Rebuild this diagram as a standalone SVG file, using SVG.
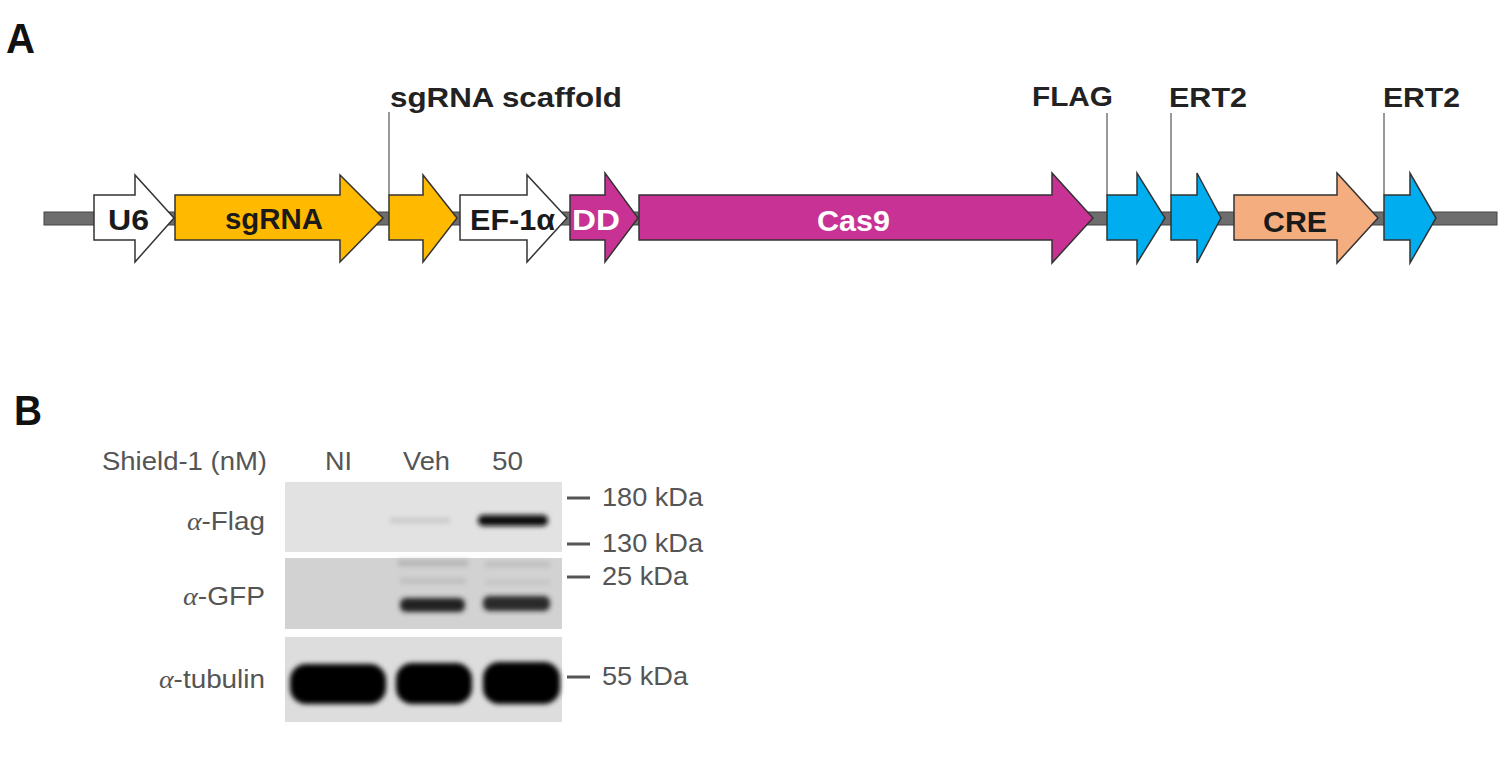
<svg xmlns="http://www.w3.org/2000/svg" width="1500" height="762" viewBox="0 0 1500 762">
<defs>
<style>
.lbl{font-family:"Liberation Sans",Arial,sans-serif;font-size:28px;font-weight:bold;fill:#222;}
.in{font-family:"Liberation Sans",Arial,sans-serif;font-size:29px;font-weight:bold;fill:#1a1a1a;}
.inw{font-family:"Liberation Sans",Arial,sans-serif;font-size:29px;font-weight:bold;fill:#ffffff;}
.arr{stroke:#333;stroke-width:1.5;stroke-linejoin:miter;}
.lead{stroke:#777;stroke-width:1.5;fill:none;}
.pan{font-family:"Liberation Sans",Arial,sans-serif;font-size:42px;font-weight:bold;fill:#111;}
.bt{font-family:"Liberation Sans",Arial,sans-serif;font-size:26px;fill:#555;}
.al{font-family:"Liberation Serif","Times New Roman",serif;font-style:italic;}
.mk{stroke:#555;stroke-width:3;}
</style>
<filter id="blur" x="-20%" y="-50%" width="140%" height="200%"><feGaussianBlur stdDeviation="2.5"/></filter>
</defs>
<rect width="1500" height="762" fill="#ffffff"/>
<text class="pan" x="6" y="53" textLength="29" lengthAdjust="spacingAndGlyphs">A</text>
<text class="pan" x="14" y="425" textLength="28" lengthAdjust="spacingAndGlyphs">B</text>

<g id="backbone"><rect x="44" y="212" width="1453" height="13" fill="#6d6d6d" stroke="#444" stroke-width="1"/></g>

<g id="connectors">
<line class="lead" x1="389" y1="112" x2="389" y2="195"/>
<line class="lead" x1="1107" y1="113" x2="1107" y2="195"/>
<line class="lead" x1="1171" y1="113" x2="1171" y2="195"/>
<line class="lead" x1="1384" y1="113" x2="1384" y2="195"/>
</g>

<g id="U6"><polygon class="arr" fill="#ffffff" points="94,195 135,195 135,175 174,218 135,262 135,240 94,240"/><text class="in" x="108" y="230" textLength="41" lengthAdjust="spacingAndGlyphs">U6</text></g>
<g id="sgRNA"><polygon class="arr" fill="#FFBA00" points="175,195 340,195 340,175 383,218 340,262 340,240 175,240"/><text class="in" x="225" y="229" textLength="98" lengthAdjust="spacingAndGlyphs">sgRNA</text></g>
<g id="scaffold"><polygon class="arr" fill="#FFBA00" points="389,195 423,195 423,175 457,218 423,262 423,240 389,240"/><text class="lbl" x="390" y="107" textLength="232" lengthAdjust="spacingAndGlyphs">sgRNA scaffold</text></g>
<g id="EF1a"><polygon class="arr" fill="#ffffff" points="460,195 527,195 527,175 567,218 527,262 527,240 460,240"/><text class="in" x="470" y="230" textLength="85" lengthAdjust="spacingAndGlyphs">EF-1α</text></g>
<g id="DD"><polygon class="arr" fill="#C83294" points="570,195 605,195 605,173 638,218 605,262 605,240 570,240"/><text class="inw" x="572" y="230" textLength="48" lengthAdjust="spacingAndGlyphs">DD</text></g>
<g id="Cas9"><polygon class="arr" fill="#C83294" points="639,195 1052,195 1052,173 1093,218 1052,263 1052,240 639,240"/><text class="inw" x="817" y="231" textLength="73" lengthAdjust="spacingAndGlyphs">Cas9</text></g>
<g id="FLAG"><polygon class="arr" fill="#00ADEF" points="1107,195 1137,195 1137,173 1165,218 1137,263 1137,240 1107,240"/><text class="lbl" x="1032" y="106" textLength="81" lengthAdjust="spacingAndGlyphs">FLAG</text></g>
<g id="ERT2a"><polygon class="arr" fill="#00ADEF" points="1171,195 1197,195 1197,173 1221,218 1197,263 1197,240 1171,240"/><text class="lbl" x="1169" y="107" textLength="78" lengthAdjust="spacingAndGlyphs">ERT2</text></g>
<g id="CRE"><polygon class="arr" fill="#F4AD7E" points="1234,195 1337,195 1337,173 1378,218 1337,263 1337,240 1234,240"/><text class="in" x="1263" y="232" textLength="64" lengthAdjust="spacingAndGlyphs">CRE</text></g>
<g id="ERT2b"><polygon class="arr" fill="#00ADEF" points="1384,195 1410,195 1410,173 1436,218 1410,263 1410,240 1384,240"/><text class="lbl" x="1383" y="107" textLength="77" lengthAdjust="spacingAndGlyphs">ERT2</text></g>

<g id="blot">
<text class="bt" x="102" y="470" textLength="165" lengthAdjust="spacingAndGlyphs">Shield-1 (nM)</text>
<text class="bt" x="325" y="470" textLength="27" lengthAdjust="spacingAndGlyphs">NI</text>
<text class="bt" x="403" y="470" textLength="47" lengthAdjust="spacingAndGlyphs">Veh</text>
<text class="bt" x="492" y="470" textLength="31" lengthAdjust="spacingAndGlyphs">50</text>
<text class="bt" x="187" y="530" textLength="78" lengthAdjust="spacingAndGlyphs"><tspan class="al">α</tspan>-Flag</text>
<text class="bt" x="183" y="605" textLength="82" lengthAdjust="spacingAndGlyphs"><tspan class="al">α</tspan>-GFP</text>
<text class="bt" x="159" y="688" textLength="106" lengthAdjust="spacingAndGlyphs"><tspan class="al">α</tspan>-tubulin</text>
<rect x="285" y="482" width="277" height="70" fill="#e2e2e2"/>
<rect x="285" y="558" width="277" height="71" fill="#d2d2d2"/>
<rect x="285" y="637" width="277" height="85" fill="#dddddd"/>
<g filter="url(#blur)">
<rect x="478" y="515" width="70" height="11" rx="5" fill="#111"/>
<rect x="390" y="518" width="60" height="5" fill="#c8c8c8"/>
<rect x="400" y="598" width="65" height="14" rx="6" fill="#222"/>
<rect x="483" y="596" width="67" height="15" rx="6" fill="#2a2a2a"/>
<rect x="398" y="560" width="70" height="6" fill="#b5b5b5"/>
<rect x="485" y="562" width="65" height="5" fill="#bdbdbd"/>
<rect x="400" y="578" width="66" height="6" fill="#c0c0c0"/>
<rect x="485" y="580" width="65" height="5" fill="#c4c4c4"/>
</g>
<g filter="url(#blur)">
<rect x="290" y="664" width="96" height="40" rx="16" fill="#000"/>
<rect x="396" y="663" width="76" height="41" rx="16" fill="#000"/>
<rect x="483" y="662" width="77" height="42" rx="16" fill="#000"/>
</g>
<line class="mk" x1="567" y1="498" x2="590" y2="498"/>
<line class="mk" x1="567" y1="544" x2="590" y2="544"/>
<line class="mk" x1="567" y1="577" x2="590" y2="577"/>
<line class="mk" x1="567" y1="677" x2="590" y2="677"/>
<text class="bt" x="602" y="506" textLength="101" lengthAdjust="spacingAndGlyphs">180 kDa</text>
<text class="bt" x="602" y="552" textLength="101" lengthAdjust="spacingAndGlyphs">130 kDa</text>
<text class="bt" x="602" y="585" textLength="86" lengthAdjust="spacingAndGlyphs">25 kDa</text>
<text class="bt" x="602" y="685" textLength="86" lengthAdjust="spacingAndGlyphs">55 kDa</text>
</g>
</svg>
